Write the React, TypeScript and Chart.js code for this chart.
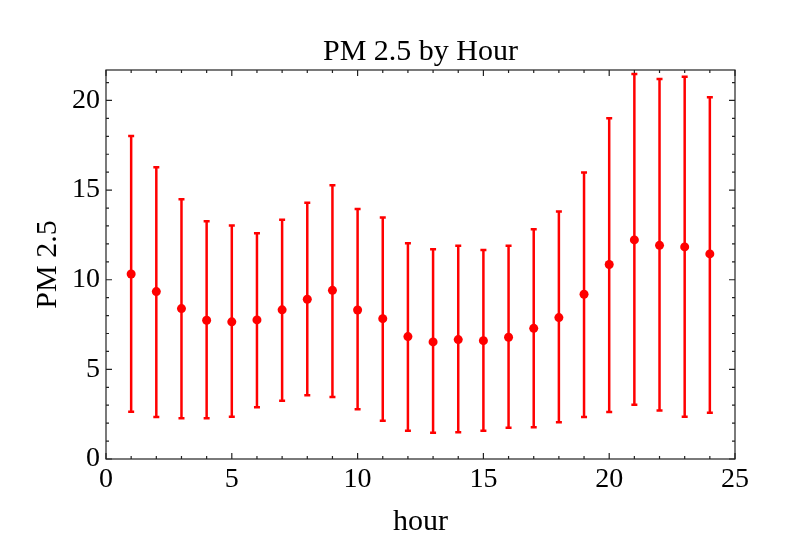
import React, { useEffect, useRef } from "react";
import { Chart, registerables } from "chart.js";

Chart.register(...registerables);

const hours = [1, 2, 3, 4, 5, 6, 7, 8, 9, 10, 11, 12, 13, 14, 15, 16, 17, 18, 19, 20, 21, 22, 23, 24];
const means = [10.32, 9.34, 8.39, 7.74, 7.65, 7.76, 8.32, 8.91, 9.41, 8.31, 7.83, 6.83, 6.53, 6.66, 6.6, 6.79, 7.29, 7.89, 9.19, 10.85, 12.22, 11.92, 11.83, 11.44];
const lows = [2.64, 2.34, 2.27, 2.27, 2.36, 2.88, 3.25, 3.55, 3.46, 2.77, 2.14, 1.58, 1.47, 1.49, 1.58, 1.75, 1.77, 2.05, 2.34, 2.62, 3.03, 2.7, 2.36, 2.58];
const highs = [18.02, 16.28, 14.49, 13.26, 13.02, 12.59, 13.34, 14.3, 15.27, 13.95, 13.47, 12.04, 11.7, 11.9, 11.66, 11.9, 12.82, 13.8, 15.98, 19.01, 21.47, 21.2, 21.33, 20.18];
const xTicks = [0, 5, 10, 15, 20, 25];
const yTicks = [0, 5, 10, 15, 20];
const title = "PM 2.5 by Hour";
const xTitle = "hour";
const yTitle = "PM 2.5";

const FONT = '"Liberation Serif", "Times New Roman", serif';
const RED = "#ff0000";

const errorBars = {
  id: "errorBars",
  beforeDatasetsDraw(chart: any) {
    const { ctx, scales } = chart;
    const xs = scales.x;
    const ys = scales.y;
    ctx.save();
    ctx.strokeStyle = RED;
    ctx.lineWidth = 2.5;
    hours.forEach((h, i) => {
      const x = xs.getPixelForValue(h);
      const yl = ys.getPixelForValue(lows[i]);
      const yh = ys.getPixelForValue(highs[i]);
      ctx.beginPath();
      ctx.moveTo(x, yl);
      ctx.lineTo(x, yh);
      ctx.moveTo(x - 3, yl);
      ctx.lineTo(x + 3, yl);
      ctx.moveTo(x - 3, yh);
      ctx.lineTo(x + 3, yh);
      ctx.stroke();
    });
    ctx.restore();
  },
};

const frame = {
  id: "frame",
  afterDraw(chart: any) {
    const { ctx, chartArea: a, scales } = chart;
    const xs = scales.x;
    const ys = scales.y;
    ctx.save();
    ctx.strokeStyle = "#222";
    ctx.lineWidth = 1.2;
    ctx.strokeRect(a.left, a.top, a.right - a.left, a.bottom - a.top);
    ctx.beginPath();
    for (let v = 0; v <= 25; v++) {
      const len = v % 5 === 0 ? 6 : 3;
      const x = xs.getPixelForValue(v);
      ctx.moveTo(x, a.bottom);
      ctx.lineTo(x, a.bottom - len);
      ctx.moveTo(x, a.top);
      ctx.lineTo(x, a.top + len);
    }
    for (let v = 0; v <= 21; v++) {
      const len = v % 5 === 0 ? 6 : 3;
      const y = ys.getPixelForValue(v);
      ctx.moveTo(a.left, y);
      ctx.lineTo(a.left + len, y);
      ctx.moveTo(a.right, y);
      ctx.lineTo(a.right - len, y);
    }
    ctx.stroke();
    ctx.fillStyle = "#000";
    ctx.font = `30px ${FONT}`;
    ctx.textAlign = "center";
    ctx.textBaseline = "alphabetic";
    ctx.fillText(title, (a.left + a.right) / 2, 60);
    ctx.restore();
  },
};

export default function App() {
  const ref = useRef<HTMLCanvasElement>(null);
  useEffect(() => {
    if (!ref.current) return;
    const chart = new Chart(ref.current, {
      type: "scatter",
      data: {
        datasets: [
          {
            data: hours.map((h, i) => ({ x: h, y: means[i] })),
            backgroundColor: RED,
            borderColor: RED,
            borderWidth: 0,
            pointRadius: 4.5,
            showLine: false,
          },
        ],
      },
      options: {
        animation: false,
        responsive: false,
        devicePixelRatio: 1,
        layout: { padding: { left: 0, right: 65, top: 70, bottom: 0 } },
        plugins: { legend: { display: false }, tooltip: { enabled: false } },
        scales: {
          x: {
            type: "linear",
            min: 0,
            max: 25,
            afterBuildTicks: (s: any) => {
              s.ticks = xTicks.map((v) => ({ value: v }));
            },
            afterFit: (s: any) => {
              s.height = 95;
            },
            grid: { display: false, drawTicks: false },
            border: { display: false },
            ticks: { color: "#000", font: { family: FONT, size: 28 }, padding: 4, maxRotation: 0 },
            title: { display: true, text: xTitle, color: "#000", font: { family: FONT, size: 30 }, padding: { top: 0, bottom: 14 } },
          },
          y: {
            type: "linear",
            min: 0,
            max: 21.7,
            afterBuildTicks: (s: any) => {
              s.ticks = yTicks.map((v) => ({ value: v }));
            },
            afterFit: (s: any) => {
              s.width = 106;
            },
            grid: { display: false, drawTicks: false },
            border: { display: false },
            ticks: { color: "#000", font: { family: FONT, size: 28 }, padding: 6 },
            title: { display: true, text: yTitle, color: "#000", font: { family: FONT, size: 30 }, padding: { top: 30, bottom: 0 } },
          },
        },
      },
      plugins: [errorBars, frame],
    });
    return () => chart.destroy();
  }, []);
  return (
    <div style={{ position: "fixed", left: 0, top: 0, width: 800, height: 554, background: "#fff" }}>
      <canvas ref={ref} width={800} height={554} />
    </div>
  );
}
